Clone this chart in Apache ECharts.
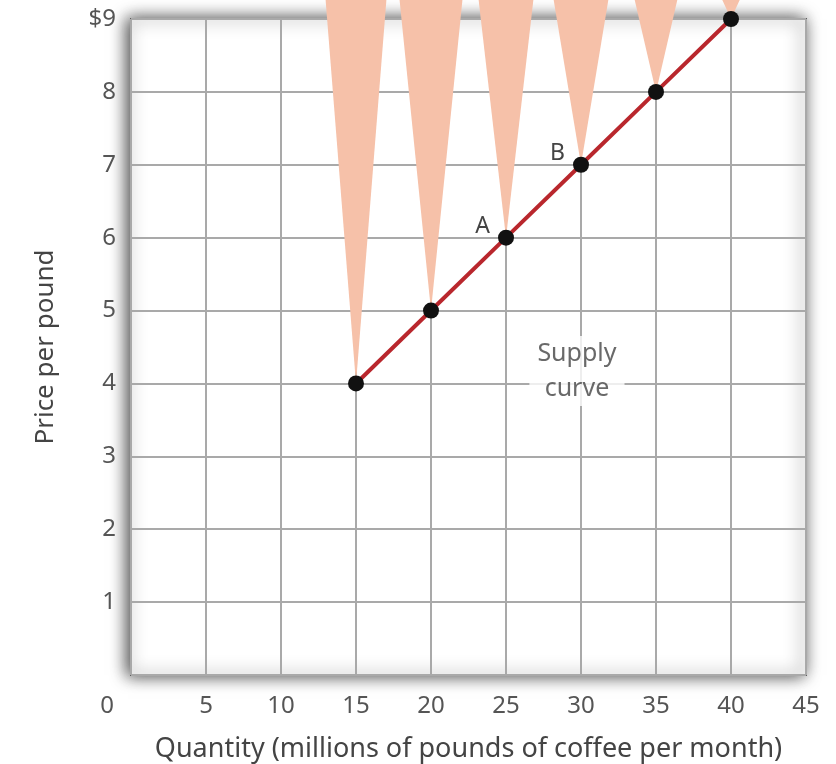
<!DOCTYPE html>
<html>
<head>
<meta charset="utf-8">
<script src="https://cdn.jsdelivr.net/npm/echarts@6/dist/echarts.min.js"></script>
<style>html,body{margin:0;padding:0;background:#fff}#c{width:836px;height:764px}</style>
</head>
<body>
<div id="c"></div>
<script>
// Supply schedule
var quantities = [15, 20, 25, 30, 35, 40];
var prices = [4, 5, 6, 7, 8, 9];
var pointLabels = ['', '', 'A', 'B', '', ''];
// Shaded wedges above each point: half-width (quantity units) at the top price level
var wedgeHalfWidths = [2.03, 2.1, 1.83, 1.83, 1.43, 0.6];
var wedgeTopPrice = 9.27;
var xTicks = [0, 5, 10, 15, 20, 25, 30, 35, 40, 45];
var yTicks = [0, 1, 2, 3, 4, 5, 6, 7, 8, 9];
var supplyLabelPos = [29.73, 4.17];

var FONT = '"Noto Sans", "Open Sans", sans-serif';
var lineData = quantities.map(function (q, i) {
  var d = { value: [q, prices[i]] };
  if (pointLabels[i]) {
    d.label = { show: true, formatter: pointLabels[i], position: 'left', offset: [-3, -11], fontSize: 23, color: '#444', fontFamily: FONT };
  }
  return d;
});
var wedgeData = quantities.map(function (q, i) {
  return [q, prices[i], wedgeHalfWidths[i], wedgeTopPrice];
});

var chart = echarts.init(document.getElementById('c'));
chart.setOption({
  animation: false,
  grid: {
    left: 131, right: 30, top: 19, bottom: 89,
    outerBoundsMode: 'none', containLabel: false,
    show: true, backgroundColor: '#fff',
    borderColor: '#5f5f5f', borderWidth: 2,
    shadowBlur: 16, shadowColor: 'rgba(0,0,0,0.75)', shadowOffsetX: -3, shadowOffsetY: 0
  },
  xAxis: {
    type: 'value', min: 0, max: 45, interval: 5,
    name: 'Quantity (millions of pounds of coffee per month)',
    nameLocation: 'middle', nameGap: 61,
    nameTextStyle: { fontSize: 27, color: '#444', fontFamily: FONT },
    axisLine: { show: false }, axisTick: { show: false },
    axisLabel: {
      margin: 19, fontSize: 24, color: '#555', fontFamily: FONT,
      formatter: function (v) { return v === 0 ? '{z|0}' : String(v); },
      rich: { z: { padding: [0, 48, 0, 0], fontSize: 24, color: '#555', fontFamily: FONT } }
    },
    splitLine: { show: true, lineStyle: { color: '#a9a9a9', width: 2 } }
  },
  yAxis: {
    type: 'value', min: 0, max: 9, interval: 1,
    name: 'Price per pound',
    nameLocation: 'middle', nameGap: 72,
    nameTextStyle: { fontSize: 26, color: '#444', fontFamily: FONT },
    axisLine: { show: false }, axisTick: { show: false },
    axisLabel: {
      margin: 15, fontSize: 24, color: '#555', fontFamily: FONT,
      formatter: function (v) { return v === 0 ? '' : (v === 9 ? '$9' : String(v)); }
    },
    splitLine: { show: true, lineStyle: { color: '#a9a9a9', width: 2 } }
  },
  series: [
    {
      type: 'custom', clip: false, z: 2,
      data: wedgeData,
      renderItem: function (params, api) {
        var q = api.value(0), p = api.value(1), hw = api.value(2), top = api.value(3);
        var a = api.coord([q - hw, top]);
        var b = api.coord([q + hw, top]);
        var t = api.coord([q, p]);
        return { type: 'polygon', shape: { points: [a, b, t] }, style: { fill: '#f6c1a9' } };
      }
    },
    {
      type: 'scatter', z: 3, symbolSize: 0, silent: true,
      data: [supplyLabelPos],
      label: {
        show: true, position: 'inside', formatter: 'Supply\ncurve',
        fontSize: 25, lineHeight: 35, color: '#444', fontFamily: FONT,
        backgroundColor: '#fff', padding: [0, 8], align: 'center'
      }
    },
    {
      type: 'line', z: 4,
      data: lineData,
      symbol: 'circle', symbolSize: 16,
      itemStyle: { color: '#111' },
      lineStyle: { color: '#b9272d', width: 4 }
    }
  ]
});
</script>
</body>
</html>
